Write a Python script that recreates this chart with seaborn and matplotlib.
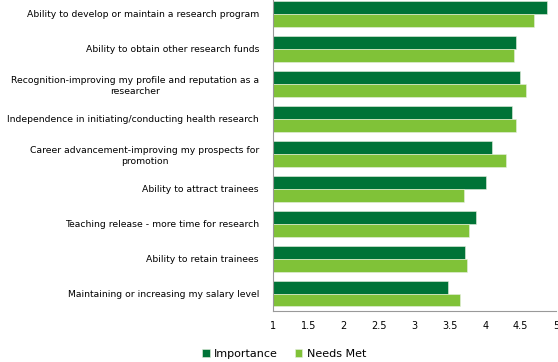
import pandas as pd
import numpy as np
import matplotlib
matplotlib.use("Agg")
import matplotlib.pyplot as plt
import seaborn as sns
from matplotlib.ticker import FixedLocator

# categories, top to bottom
categories = [
    "Ability to develop or maintain a research program",
    "Ability to obtain other research funds",
    "Recognition-improving my profile and reputation as a\nresearcher",
    "Independence in initiating/conducting health research",
    "Career advancement-improving my prospects for\npromotion",
    "Ability to attract trainees",
    "Teaching release - more time for research",
    "Ability to retain trainees",
    "Maintaining or increasing my salary level",
]
importance = [4.87, 4.44, 4.49, 4.38, 4.09, 4.01, 3.87, 3.71, 3.47]
needs_met = [4.69, 4.40, 4.57, 4.43, 4.29, 3.70, 3.77, 3.74, 3.64]
series = ["Importance", "Needs Met"]
x_ticks = [1, 1.5, 2, 2.5, 3, 3.5, 4, 4.5, 5]
colors = ["#007337", "#80C238"]

df = pd.DataFrame({
    "item": categories * 2,
    "score": importance + needs_met,
    "series": [series[0]] * len(categories) + [series[1]] * len(categories),
})

sns.set_style("white")
plt.rcParams["font.family"] = ["DejaVu Sans"]
plt.rcParams["text.color"] = "black"
plt.rcParams["xtick.color"] = "black"
plt.rcParams["ytick.color"] = "black"

fig = plt.figure(figsize=(5.58, 3.62), dpi=100)
ax = fig.add_axes([273 / 558, 1 - 311 / 362, 283 / 558, 314.5 / 362])

sns.barplot(data=df, y="item", x="score", hue="series", orient="h",
            palette=colors, saturation=1, width=0.74, ax=ax,
            edgecolor="#e8f0e0", linewidth=0.4)

ax.set_xlim(1, 5)
ax.set_ylim(len(categories) - 0.5, -0.5)
ax.set_xticks(x_ticks)
ax.set_xticklabels([f"{t:g}" for t in x_ticks], fontsize=7)
ax.set_yticks(range(len(categories)))
ax.set_yticklabels(categories, fontsize=6.7, multialignment="center",
                   linespacing=1.35)
ax.tick_params(axis="y", which="major", length=0, pad=10)
ax.yaxis.set_minor_locator(FixedLocator(np.arange(-0.5, len(categories), 1)))
ax.tick_params(axis="y", which="minor", length=4, color="#999999", width=0.8)
ax.tick_params(axis="x", which="major", length=4, color="#999999",
               labelcolor="black", width=0.8, pad=3)
ax.set_xlabel("")
ax.set_ylabel("")

for s in ["top", "right"]:
    ax.spines[s].set_visible(False)
for s in ["left", "bottom"]:
    ax.spines[s].set_color("#999999")
    ax.spines[s].set_linewidth(0.8)

ax.legend(loc="center", bbox_to_anchor=(284 / 558, 8 / 362),
          bbox_transform=fig.transFigure, ncol=2, frameon=False,
          fontsize=8, handlelength=0.7, handleheight=0.7,
          handletextpad=0.4, columnspacing=1.5)

fig.savefig("out.png", dpi=100)
